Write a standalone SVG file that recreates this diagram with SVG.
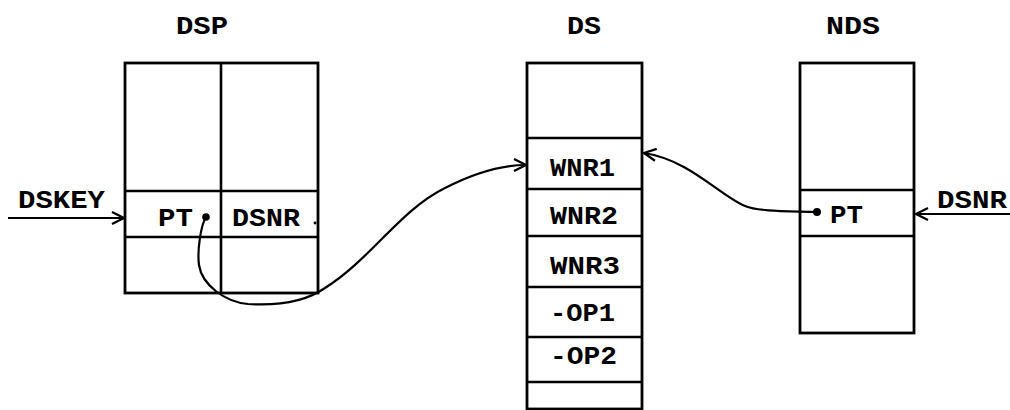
<svg xmlns="http://www.w3.org/2000/svg" width="1010" height="410" viewBox="0 0 1010 410">
<style>
.box{fill:none;stroke:#000;stroke-width:2.8}
.ln{stroke:#000;stroke-width:2.6}
.t{font-family:"Liberation Mono","Courier New",monospace;font-weight:bold;font-size:25px;fill:#000}
.c{fill:none;stroke:#000;stroke-width:2.2}
</style>
<defs>
<marker id="arr" viewBox="0 0 14 14" refX="13" refY="7" markerWidth="14" markerHeight="14" markerUnits="userSpaceOnUse" orient="auto">
<path d="M1,1 L13,7 L1,13" fill="none" stroke="#000" stroke-width="2.2"/>
</marker>
</defs>
<rect width="1010" height="410" fill="#fff"/>
<g id="DSP">
<text class="t" x="176" y="34" textLength="52" lengthAdjust="spacingAndGlyphs">DSP</text>
<rect class="box" x="125" y="63" width="193" height="230"/>
<line class="ln" x1="221" y1="63" x2="221" y2="293"/>
<line class="ln" x1="125" y1="191" x2="318" y2="191"/>
<line class="ln" x1="125" y1="237" x2="318" y2="237"/>
<text class="t" x="158" y="226" textLength="35" lengthAdjust="spacingAndGlyphs">PT</text>
<text class="t" x="232" y="226" textLength="68" lengthAdjust="spacingAndGlyphs">DSNR</text>
<circle cx="315" cy="223" r="1.4" fill="#000"/>
<circle cx="206" cy="217" r="3.8" fill="#000"/>
</g>
<g id="DS">
<text class="t" x="567" y="34" textLength="34" lengthAdjust="spacingAndGlyphs">DS</text>
<rect class="box" x="527" y="63" width="115" height="346"/>
<line class="ln" x1="527" y1="138" x2="642" y2="138"/>
<line class="ln" x1="527" y1="189" x2="642" y2="189"/>
<line class="ln" x1="527" y1="236" x2="642" y2="236"/>
<line class="ln" x1="527" y1="287" x2="642" y2="287"/>
<line class="ln" x1="527" y1="337" x2="642" y2="337"/>
<line class="ln" x1="527" y1="382" x2="642" y2="382"/>
<text class="t" x="550" y="176" textLength="65" lengthAdjust="spacingAndGlyphs">WNR1</text>
<text class="t" x="550" y="224" textLength="68" lengthAdjust="spacingAndGlyphs">WNR2</text>
<text class="t" x="550" y="274" textLength="70" lengthAdjust="spacingAndGlyphs">WNR3</text>
<text class="t" x="550" y="321" textLength="65" lengthAdjust="spacingAndGlyphs">-OP1</text>
<text class="t" x="550" y="364" textLength="67" lengthAdjust="spacingAndGlyphs">-OP2</text>
</g>
<g id="NDS">
<text class="t" x="826" y="34" textLength="54" lengthAdjust="spacingAndGlyphs">NDS</text>
<rect class="box" x="800" y="63" width="114" height="270"/>
<line class="ln" x1="800" y1="190" x2="914" y2="190"/>
<line class="ln" x1="800" y1="236" x2="914" y2="236"/>
<text class="t" x="830" y="223" textLength="33" lengthAdjust="spacingAndGlyphs">PT</text>
<circle cx="817" cy="212" r="4" fill="#000"/>
</g>
<g id="connectors">
<text class="t" x="18" y="208" textLength="87" lengthAdjust="spacingAndGlyphs">DSKEY</text>
<line class="c" x1="8" y1="218" x2="124" y2="218" marker-end="url(#arr)"/>
<text class="t" x="937" y="208" textLength="70" lengthAdjust="spacingAndGlyphs">DSNR</text>
<line class="c" x1="1010" y1="214" x2="916" y2="214" marker-end="url(#arr)"/>
<path class="c" d="M206,217 C201,225 197,250 199,265 C202,285 225,302 248,304 C280,306 305,302 325,288 C370,260 400,210 445,188 C480,170 505,165 526,165" marker-end="url(#arr)"/>
<path class="c" d="M817,212 C790,211 760,212 745,206 C720,196 690,160 644,153" marker-end="url(#arr)"/>
</g>
</svg>
